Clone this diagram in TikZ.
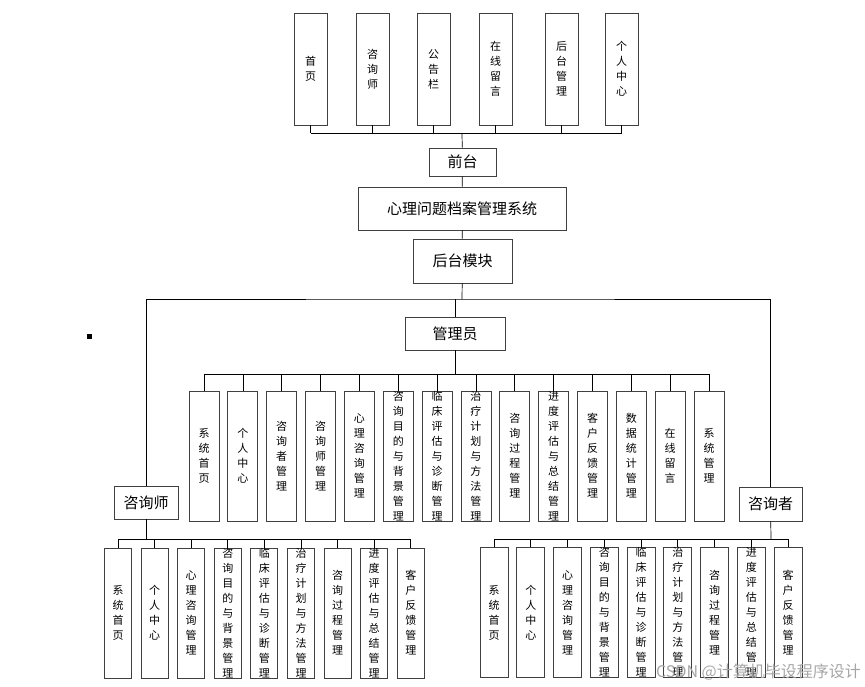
\documentclass[tikz,border=0pt]{standalone}
\usepackage{fontspec}
\setmainfont{Noto Sans CJK SC}
\XeTeXlinebreaklocale "zh"
\XeTeXlinebreakskip=0pt plus 1pt
\usetikzlibrary{positioning}

\tikzset{
  boxline/.style={draw=black!75, line width=0.9pt},
  bigbox/.style={boxline, fill=white, inner sep=0pt, font=\fontsize{15}{18}\selectfont},
  vtext/.style={font=\fontsize{11}{15}\selectfont, text width=11pt, align=center, inner sep=0pt},
  vbox/.style={boxline, inner sep=0pt, minimum width=#1},
  vbox/.default=30pt,
  link/.style={draw=black, line width=0.7pt}
}

\begin{document}
\begin{tikzpicture}[x=1pt, y=-1pt]
  \useasboundingbox (0,0) rectangle (865,687);

  % front end row
  \foreach \x/\txt [count=\i] in {310.5/首页, 372.5/咨询师, 433.5/公告栏,
      495.5/在线留言, 561.5/后台管理, 621.5/个人中心}
    \node[vbox=33pt, minimum height=112pt, label={[vtext]center:{\txt}}] (t\i) at (\x,69) {};
  \coordinate (topbus) at (462,133);
  \draw[link] (t1.south |- topbus) -- (t6.south |- topbus);
  \foreach \i in {1,...,6}
    \draw[link] (t\i.south) -- (t\i.south |- topbus);

  % main column
  \node[bigbox, minimum width=67pt, minimum height=28pt] (front) at (462.5,162) {前台};
  \node[bigbox, minimum width=208pt, minimum height=43pt] (sys) at (462,208.5) {心理问题档案管理系统};
  \node[bigbox, minimum width=99pt, minimum height=44pt] (back) at (462.5,261) {后台模块};
  \draw[link] (topbus) -- (front);
  \draw[link] (front) -- (sys);
  \draw[link] (sys) -- (back);

  % roles
  \node[bigbox, minimum width=100pt, minimum height=33pt] (adm) at (455,333.5) {管理员};
  \node[bigbox, minimum width=64pt, minimum height=33pt] (zxs) at (146,502.5) {咨询师};
  \node[bigbox, minimum width=63pt, minimum height=34pt] (zxz) at (770.5,504) {咨询者};
  \coordinate (backbus) at (462,299);
  \draw[link] (back) -- (backbus);
  \draw[link] (zxs.north) |- (backbus) -| (zxz.north);
  \draw[link] (adm.north) -- (adm.north |- backbus);

  % admin modules
  \foreach \txt [count=\i] in {系统首页, 个人中心, 咨询者管理, 咨询师管理, 心理咨询管理,
      咨询目的与背景管理, 临床评估与诊断管理, 治疗计划与方法管理, 咨询过程管理,
      进度评估与总结管理, 客户反馈管理, 数据统计管理, 在线留言, 系统管理}
    \node[vbox, minimum height=130pt, label={[vtext]center:{\txt}}] (a\i) at ({204+(\i-1)*38.85},456) {};
  \coordinate (admbus) at (455,374);
  \draw[link] (adm) -- (admbus);
  \draw[link] (a1.north |- admbus) -- (a14.north |- admbus);
  \foreach \i in {1,...,14}
    \draw[link] (a\i.north) -- (a\i.north |- admbus);

  % counsellor modules
  \foreach \txt [count=\i] in {系统首页, 个人中心, 心理咨询管理, 咨询目的与背景管理,
      临床评估与诊断管理, 治疗计划与方法管理, 咨询过程管理, 进度评估与总结管理, 客户反馈管理}
    \node[vbox=27pt, minimum height=130pt, label={[vtext]center:{\txt}}] (l\i) at ({118+(\i-1)*36.6},613) {};
  \coordinate (lbus) at (146,539);
  \draw[link] (zxs) -- (lbus);
  \draw[link] (l1.north |- lbus) -- (l9.north |- lbus);
  \foreach \i in {1,...,9}
    \draw[link] (l\i.north) -- (l\i.north |- lbus);

  % client modules
  \foreach \txt [count=\i] in {系统首页, 个人中心, 心理咨询管理, 咨询目的与背景管理,
      临床评估与诊断管理, 治疗计划与方法管理, 咨询过程管理, 进度评估与总结管理, 客户反馈管理}
    \node[vbox=28pt, minimum height=130pt, label={[vtext]center:{\txt}}] (r\i) at ({494+(\i-1)*36.75},612.5) {};
  \coordinate (rbus) at (771,539);
  \draw[link] (zxz) -- (rbus);
  \draw[link] (r1.north |- rbus) -- (r9.north |- rbus);
  \foreach \i in {1,...,9}
    \draw[link] (r\i.north) -- (r\i.north |- rbus);

  % stray mark and watermark
  \fill (87,334) rectangle (92,339);
  \node[anchor=east, text=black!35, font=\fontsize{16}{18}\selectfont, inner sep=0pt] (wm) at (861,672) {CSDN @计算机毕设程序设计};
\end{tikzpicture}
\end{document}
